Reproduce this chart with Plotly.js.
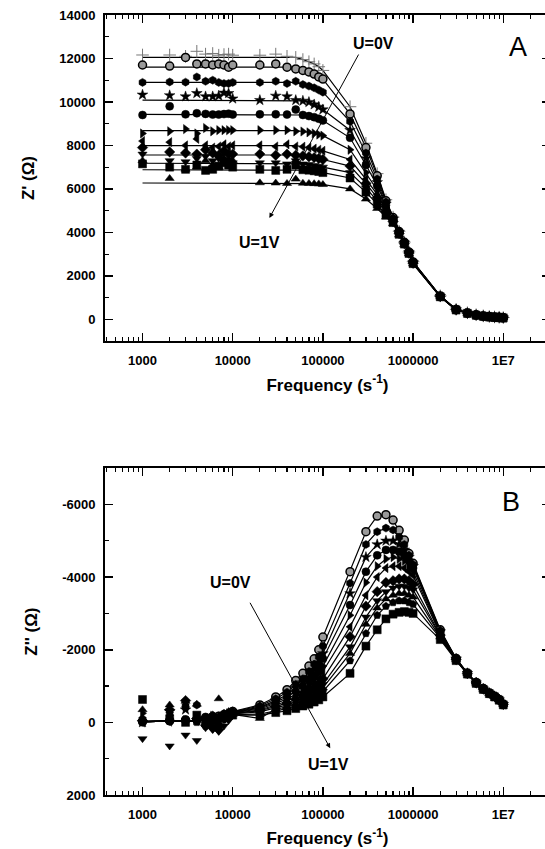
<!DOCTYPE html>
<html>
<head>
<meta charset="utf-8">
<script src="https://cdn.plot.ly/plotly-3.0.1.min.js"></script>
<style>
html,body{margin:0;padding:0;overflow:hidden;background:#fff;width:545px;height:849px;}
#chart{width:552px;height:849px;}
</style>
</head>
<body>
<div id="chart"></div>
<script>
// Frequencies (Hz)
const freq = [1000,2000,3000,4000,5000,6000,7000,8000,9000,
  10000,20000,30000,40000,50000,60000,70000,80000,90000,
  100000,200000,300000,400000,500000,600000,700000,800000,900000,
  1000000,2000000,3000000,4000000,5000000,6000000,7000000,8000000,9000000,
  10000000];

// Panel A: Z' (Ohm), U = 0 V (top) ... U = 1 V (bottom)
const plateauA = [12050,11600,10900,10080,9430,8680,7990,7560,7180,6880,6270];
const zRe1 = [12160,12160,12100,12330,12200,12230,12150,12180,12200,12150,12150,12200,12100,12050,11950,11850,11750,11620,11450,9780,8100,6700,5500,4700,4050,3550,3100,2650,1080,460,300,210,160,130,110,95,80];
const zRe2 = [11700,11650,12050,11750,11750,11700,11750,11700,11600,11700,11700,11750,11600,11520,11450,11380,11280,11150,11050,9450,7900,6600,5450,4680,4040,3540,3095,2640,1075,455,295,205,155,125,105,90,75];
const zRe3 = [10900,10920,10910,11150,10950,11000,10900,10850,10850,10900,10900,10950,10850,10950,10800,10730,10650,10550,10450,9100,7650,6450,5400,4650,4020,3530,3090,2630,1070,450,290,200,150,120,100,88,72];
const zRe4 = [10330,10300,10250,10400,10250,10250,10280,10420,10400,10150,10080,10280,10250,10080,10050,9990,9880,9770,9650,8700,7400,6300,5300,4620,4010,3520,3080,2620,1065,448,288,198,148,120,100,87,72];
const zRe5 = [9400,9800,9430,9480,9450,9420,9420,9440,9460,9420,9430,9430,9420,9650,9400,9350,9300,9230,9150,8350,7100,6150,5250,4600,4000,3510,3070,2610,1060,445,285,196,146,118,98,86,70];
const zRe6 = [8550,8650,8750,8550,8800,8650,8700,8700,8700,8700,8700,8700,8700,8650,8640,8600,8550,8500,8450,7800,6750,5950,5150,4570,3980,3500,3060,2600,1055,442,283,195,145,117,97,85,70];
const zRe7 = [8200,8150,8000,8300,8000,7900,7950,8050,7950,8000,8000,7950,8050,7950,7940,7900,7850,7800,7750,7350,6450,5750,5050,4530,3960,3490,3050,2590,1050,440,281,193,144,116,96,84,69];
const zRe8 = [7900,7700,7650,7600,7800,7650,7550,7750,7600,7600,7600,7550,7600,7550,7520,7480,7440,7400,7350,7050,6250,5600,4950,4500,3950,3480,3045,2580,1045,438,280,192,143,115,95,83,68];
const zRe9 = [7600,7300,7250,7400,7500,7300,7400,7250,7350,7200,7200,7200,7150,7300,7150,7120,7080,7040,7000,6750,6050,5450,4900,4480,3930,3470,3040,2570,1040,436,278,191,142,114,94,82,68];
const zRe10 = [7150,7000,6900,7100,6850,6900,7050,7200,7100,7000,6900,6850,6900,7100,6880,6860,6830,6800,6750,6500,5850,5300,4800,4450,3910,3460,3030,2560,1035,434,276,190,141,113,93,81,67];
const zRe11 = [7300,6480,6900,7000,7300,7100,7000,7400,7200,7300,6280,6270,6250,6450,6260,6250,6240,6230,6200,6000,5530,5100,4700,4400,3880,3440,3020,2550,1030,432,275,189,140,112,92,80,66];
const seriesA = [zRe1,zRe2,zRe3,zRe4,zRe5,zRe6,zRe7,zRe8,zRe9,zRe10,zRe11];
const symbolsA = ['cross-thin-open','circle','hexagon','star','circle','triangle-right','triangle-left','diamond','triangle-down','square','triangle-up'];

// Panel B: Z'' (Ohm)
const lowFitB = [-20,-30,-40,-50,-70,-100,-130,-160,-200];
const zIm1 = [-30,-50,-60,-80,-120,-150,-170,-200,-230,-300,-480,-700,-900,-1150,-1350,-1550,-1750,-2000,-2350,-4150,-5250,-5680,-5720,-5570,-5290,-5020,-4650,-4380,-2550,-1760,-1360,-1100,-930,-810,-720,-630,-500];
const zIm2 = [-20,-40,-450,-480,-50,-100,-150,-200,-250,-290,-450,-650,-830,-1050,-1200,-1400,-1600,-1800,-2100,-3830,-4900,-5250,-5350,-5300,-5100,-4900,-4600,-4350,-2530,-1755,-1355,-1098,-928,-808,-718,-628,-498];
const zIm3 = [0,-300,-350,-60,-80,-120,-140,-180,-230,-280,-420,-600,-760,-950,-1100,-1250,-1450,-1650,-1900,-3550,-4550,-4900,-5000,-5000,-4900,-4750,-4550,-4300,-2500,-1750,-1350,-1095,-925,-806,-716,-626,-496];
const zIm4 = [0,-30,-80,-50,-150,-100,100,-120,-200,-270,-400,-560,-700,-850,-1000,-1150,-1300,-1500,-1750,-3230,-4150,-4600,-4750,-4750,-4700,-4600,-4450,-4250,-2480,-1745,-1348,-1093,-923,-805,-715,-625,-495];
const zIm5 = [-250,-200,-60,-120,50,-180,-100,-200,-250,-260,-370,-520,-640,-780,-900,-1050,-1200,-1350,-1550,-2950,-3850,-4300,-4500,-4550,-4500,-4450,-4300,-4150,-2450,-1740,-1345,-1090,-920,-803,-713,-623,-493];
const zIm6 = [0,-20,-40,-60,0,50,-70,-100,-150,-250,-340,-480,-580,-700,-820,-950,-1050,-1200,-1400,-2630,-3500,-4000,-4250,-4300,-4300,-4250,-4150,-4050,-2430,-1735,-1342,-1088,-918,-802,-712,-622,-492];
const zIm7 = [-50,-350,-600,-100,80,150,200,-100,-120,-240,-320,-440,-530,-640,-740,-850,-950,-1050,-1200,-2360,-3200,-3600,-3850,-3900,-3950,-3950,-3900,-3800,-2400,-1730,-1340,-1085,-916,-800,-710,-620,-490];
const zIm8 = [450,650,350,500,150,200,250,100,-50,-230,-290,-400,-480,-580,-660,-750,-850,-950,-1050,-2080,-2900,-3350,-3600,-3700,-3750,-3750,-3700,-3650,-2380,-1725,-1337,-1083,-914,-798,-708,-618,-488];
const zIm9 = [-350,-480,-580,-500,-100,-50,-650,-150,-300,-220,-110,-360,-430,-520,-600,-680,-750,-850,-950,-1900,-2700,-3150,-3400,-3500,-3550,-3550,-3500,-3450,-2350,-1720,-1335,-1080,-912,-796,-706,-616,-486];
const zIm10 = [-100,-250,-400,0,100,-200,50,-250,-200,-210,-230,-320,-380,-460,-520,-600,-650,-750,-850,-1700,-2450,-2950,-3200,-3300,-3350,-3350,-3300,-3250,-2320,-1715,-1332,-1078,-910,-794,-704,-614,-484];
const zIm11 = [-630,-100,0,-200,-60,-50,-120,-150,-200,-200,-200,-270,-320,-380,-450,-500,-560,-620,-700,-1350,-2100,-2550,-2850,-2980,-3030,-3050,-3030,-3000,-2280,-1700,-1330,-1075,-908,-792,-702,-612,-482];
const seriesB = [zIm1,zIm2,zIm3,zIm4,zIm5,zIm6,zIm7,zIm8,zIm9,zIm10,zIm11];
const symbolsB = ['circle','hexagon','star','circle','triangle-right','triangle-left','diamond','triangle-down','triangle-up','pentagon','square'];

// Tick labels
const xTickVals = [1000,10000,100000,1000000,10000000];
const xTickText = ['1000','10000','100000','1000000','1E7'];
const yBTickVals = [-6000,-4000,-2000,0,2000];
const yBTickText = ['-6000','-4000','-2000','0','2000'];

function markerStyle(sym){
  if (sym === 'cross-thin-open') return {symbol:sym, size:9, color:'#777', line:{color:'#777', width:1}};
  return {symbol:sym, size:8, color:'#000', line:{color:'#000', width:0.5}};
}

const traces = [];
seriesA.forEach((s, k) => {
  const fit = s.map((v, i) => i <= 13 ? plateauA[k] : v);
  traces.push({x:freq, y:fit, xaxis:'x', yaxis:'y', mode:'lines', line:{color:'#000', width:1.2}, hoverinfo:'skip'});
});
seriesA.forEach((s, k) => {
  const m = markerStyle(symbolsA[k]);
  if (k === 1) { m.color = '#9a9a9a'; m.line = {color:'#000', width:1.5}; }
  traces.push({x:freq, y:s, xaxis:'x', yaxis:'y', mode:'markers', marker:m});
});
seriesB.forEach((s, k) => {
  const fit = s.map((v, i) => i < lowFitB.length ? lowFitB[i] : v);
  traces.push({x:freq, y:fit, xaxis:'x2', yaxis:'y2', mode:'lines', line:{color:'#000', width:1.2}, hoverinfo:'skip'});
});
seriesB.forEach((s, k) => {
  const m = markerStyle(symbolsB[k]);
  if (k === 0) { m.color = '#9a9a9a'; m.line = {color:'#000', width:1.5}; }
  traces.push({x:freq, y:s, xaxis:'x2', yaxis:'y2', mode:'markers', marker:m});
});

// minor tick positions (layout only)
const minorX = [];
for (let e = 2; e <= 7; e++) for (let d = 2; d <= 9; d++) minorX.push(d * Math.pow(10, e));

const fontFam = 'Liberation Sans, Arial, sans-serif';
const tickFont = {family:fontFam, size:13, color:'#000', weight:'bold'};
const titleFont = {family:fontFam, size:17, color:'#000', weight:'bold'};
const annFont = {family:fontFam, size:16, color:'#000', weight:'bold'};

function xAxis(anchor){
  return {
    type:'log', range:[2.584, 7.518], anchor:anchor,
    tickmode:'array', tickvals:xTickVals, ticktext:xTickText,
    ticks:'inside', ticklen:8, tickwidth:1.5, tickcolor:'#000',
    minor:{tickmode:'array', tickvals:minorX, ticks:'inside', ticklen:4, tickwidth:1.2, tickcolor:'#000', showgrid:false},
    showline:true, linewidth:2, linecolor:'#000', mirror:'ticks',
    showgrid:false, zeroline:false, tickfont:tickFont, ticklabelstandoff:6,
    title:{text:'Frequency (s<sup>-1</sup>)', font:titleFont, standoff:12}
  };
}

function textAnn(x, y, text, font){
  return {xref:'paper', yref:'paper', x:x, y:y, xanchor:'center', yanchor:'middle', text:text, showarrow:false, font:font};
}

const layout = {
  width:552, height:849,
  margin:{l:105, r:2, t:15, b:54},
  paper_bgcolor:'#fff', plot_bgcolor:'#fff',
  showlegend:false,
  xaxis: xAxis('y'),
  xaxis2: xAxis('y2'),
  yaxis: {
    domain:[0.582, 1], range:[-1000, 14000], anchor:'x',
    tickmode:'linear', tick0:0, dtick:2000, tickformat:'d',
    ticks:'inside', ticklen:8, tickwidth:1.5, tickcolor:'#000',
    minor:{tickmode:'linear', tick0:1000, dtick:2000, ticks:'inside', ticklen:4, tickwidth:1.2, tickcolor:'#000', showgrid:false},
    showline:true, linewidth:2, linecolor:'#000', mirror:'ticks',
    showgrid:false, zeroline:false, tickfont:tickFont, ticklabelstandoff:5,
    title:{text:"Z' (Ω)", font:titleFont, standoff:20}
  },
  yaxis2: {
    domain:[0, 0.419], range:[2000, -7000], anchor:'x2',
    tickmode:'array', tickvals:yBTickVals, ticktext:yBTickText,
    ticks:'inside', ticklen:8, tickwidth:1.5, tickcolor:'#000',
    minor:{tickmode:'linear', tick0:1000, dtick:2000, ticks:'inside', ticklen:4, tickwidth:1.2, tickcolor:'#000', showgrid:false},
    showline:true, linewidth:2, linecolor:'#000', mirror:'ticks',
    showgrid:false, zeroline:false, tickfont:tickFont, ticklabelstandoff:5,
    title:{text:"Z'' (Ω)", font:titleFont, standoff:20}
  },
  annotations:[
    textAnn(0.6038, 0.9641, 'U=0V', annFont),
    {xref:'paper', yref:'paper', x:0.3694, y:0.7397, ax:90, ay:-165, text:'', showarrow:true, arrowhead:2, arrowsize:1, arrowwidth:1, arrowcolor:'#000'},
    textAnn(0.3461, 0.7077, 'U=1V', annFont),
    textAnn(0.9281, 0.959, 'A', {family:fontFam, size:27, color:'#000'}),
    textAnn(0.2831, 0.2718, 'U=0V', annFont),
    {xref:'paper', yref:'paper', x:0.5061, y:0.0599, ax:-81, ay:-147, text:'', showarrow:true, arrowhead:2, arrowsize:1, arrowwidth:1, arrowcolor:'#000'},
    textAnn(0.5022, 0.0385, 'U=1V', annFont),
    textAnn(0.9121, 0.376, 'B', {family:fontFam, size:27, color:'#000'})
  ]
};

Plotly.newPlot('chart', traces, layout, {staticPlot:true, displayModeBar:false});
</script>
</body>
</html>
